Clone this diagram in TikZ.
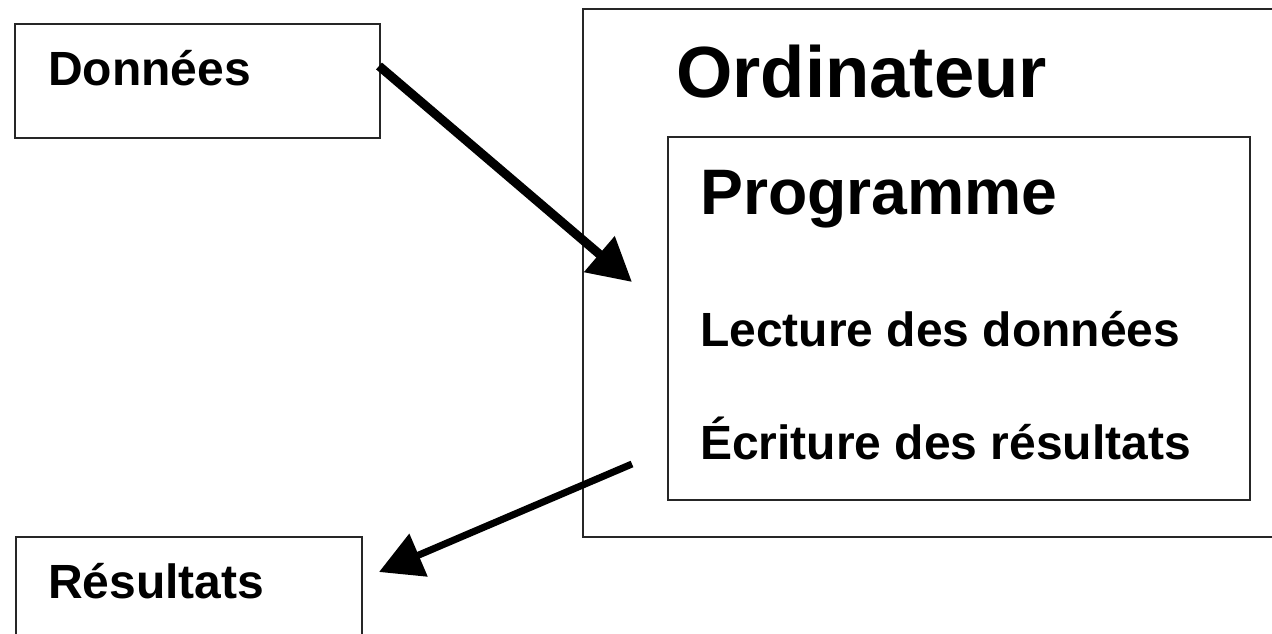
\documentclass[tikz,border=0pt]{standalone}
\usepackage{fontspec}
\setmainfont{Liberation Sans}
\usetikzlibrary{arrows.meta}
\tikzset{
  box/.style={draw=black!85, line width=2pt, rectangle, inner sep=0pt, anchor=north west},
  lbl/.style={anchor=base west, inner sep=0pt, font=\bfseries\fontsize{48}{52}\selectfont},
  big/.style={anchor=base west, inner sep=0pt, font=\bfseries\fontsize{72.5}{80}\selectfont},
  mid/.style={anchor=base west, inner sep=0pt, font=\bfseries\fontsize{64.3}{70}\selectfont},
  flow/.style={-{Triangle[length=43pt,width=45pt]}, line width=8pt, black}
}
\begin{document}
\begin{tikzpicture}[x=1pt,y=-1pt]
\useasboundingbox (0,0) rectangle (1272,634);
\clip (0,0) rectangle (1272,634);
% boxes
\node[box, minimum width=365pt, minimum height=114pt] (donnees) at (14,23) {};
\node[box, minimum width=700pt, minimum height=528pt] (ordi) at (582,8) {};
\node[box, minimum width=582pt, minimum height=363pt] (prog) at (667,136) {};
\node[box, minimum width=346pt, minimum height=120pt] (resultats) at (15,536) {};
% texts
\node[lbl] (tdonnees) at (48,85) {Données};
\node[big] (tordi) at (676,97) {Ordinateur};
\node[mid] (tprog) at (700,214) {Programme};
\node[lbl] (tlect) at (700,346) {Lecture des données};
\node[lbl] (tecr) at (700,459) {Écriture des résultats};
\node[lbl] (tres) at (48,598) {Résultats};
% connectors
\coordinate (a1s) at (379,66);
\coordinate (a1e) at (632,282);
\coordinate (a2s) at (632,464);
\coordinate (a2e) at (379,572);
\draw[flow, line width=9pt] (a1s) -- (a1e);
\draw[flow, line width=7pt] (a2s) -- (a2e);
\end{tikzpicture}
\end{document}
